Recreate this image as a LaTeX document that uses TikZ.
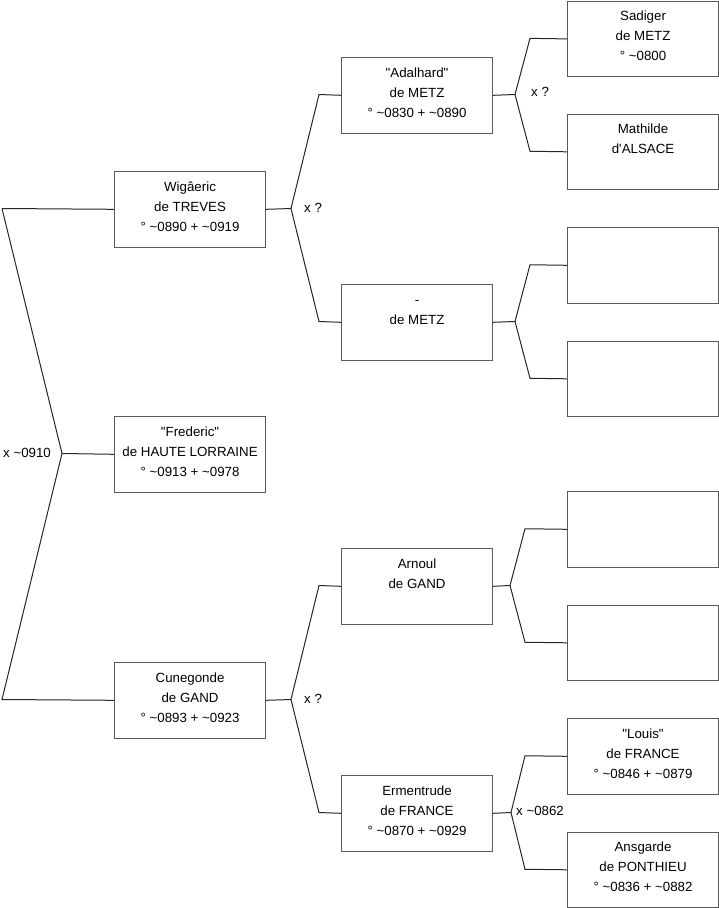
\documentclass[tikz,border=0pt]{standalone}
\usepackage{fontspec}
\setmainfont{Liberation Sans}
\begin{document}
\begin{tikzpicture}[x=1pt,y=-1pt,
  pbox/.style={draw=black!65, line width=1.1pt, minimum width=151pt, minimum height=75.5pt, inner sep=0pt, anchor=north west, fill=white},
  ptext/.style={anchor=north, inner sep=0pt, align=center, font=\fontsize{13.3}{20}\selectfont},
  lnk/.style={draw=black!85, line width=1pt},
  lbl/.style={anchor=west, inner sep=0pt, font=\fontsize{13.3}{16}\selectfont}]
\useasboundingbox (0,0) rectangle (719,908);
% generation 1
\node[pbox] (wig) at (114,171) {};
\node[pbox] (fre) at (114,416) {};
\node[pbox] (cun) at (114,662) {};
% generation 2
\node[pbox] (ada) at (341,57) {};
\node[pbox] (met) at (341,284) {};
\node[pbox] (arn) at (341,548) {};
\node[pbox] (erm) at (341,775) {};
% generation 3
\node[pbox] (sad) at (567,0.6) {};
\node[pbox] (mat) at (567,113.5) {};
\node[pbox] (e1) at (567,227) {};
\node[pbox] (e2) at (567,340.5) {};
\node[pbox] (e3) at (567,491) {};
\node[pbox] (e4) at (567,604.5) {};
\node[pbox] (lou) at (567,718) {};
\node[pbox] (ans) at (567,831.5) {};
% texts
\newcommand{\fs}{\rule{0pt}{20pt}}
\node[ptext] (twig) at (wig.north) {\fs Wigâeric\\de TREVES\\° \textasciitilde0890 + \textasciitilde0919};
\node[ptext] (tfre) at (fre.north) {\fs \textquotedbl Frederic\textquotedbl\\de HAUTE LORRAINE\\° \textasciitilde0913 + \textasciitilde0978};
\node[ptext] (tcun) at (cun.north) {\fs Cunegonde\\de GAND\\° \textasciitilde0893 + \textasciitilde0923};
\node[ptext] (tada) at (ada.north) {\fs \textquotedbl Adalhard\textquotedbl\\de METZ\\° \textasciitilde0830 + \textasciitilde0890};
\node[ptext] (tmet) at (met.north) {\fs -\\de METZ};
\node[ptext] (tarn) at (arn.north) {\fs Arnoul\\de GAND};
\node[ptext] (term) at (erm.north) {\fs Ermentrude\\de FRANCE\\° \textasciitilde0870 + \textasciitilde0929};
\node[ptext] (tsad) at (sad.north) {\fs Sadiger\\de METZ\\° \textasciitilde0800};
\node[ptext] (tmat) at (mat.north) {\fs Mathilde\\d\textquotesingle ALSACE};
\node[ptext] (tlou) at (lou.north) {\fs \textquotedbl Louis\textquotedbl\\de FRANCE\\° \textasciitilde0846 + \textasciitilde0879};
\node[ptext] (tans) at (ans.north) {\fs Ansgarde\\de PONTHIEU\\° \textasciitilde0836 + \textasciitilde0882};
% junction coordinates
\coordinate (r) at (62,453.5);
\coordinate (rt) at (2,208.5);
\coordinate (rb) at (2,699.5);
\coordinate (jw) at (291,208.5);
\coordinate (jc) at (291,699.5);
\coordinate (ja) at (515,94.5);
\coordinate (jm) at (515,321.5);
\coordinate (jn) at (510,585.5);
\coordinate (je) at (511,812.5);
% connectors root
\path[lnk] (rt) -- (wig.west);
\path[lnk] (rt) -- (r) -- (rb) -- (cun.west);
\path[lnk] (r) -- (fre.west);
% gen1 -> gen2
\path[lnk] (wig.east) -- (jw);
\path[lnk] (jw) -- (319,94.5) -- (ada.west);
\path[lnk] (jw) -- (319,321.5) -- (met.west);
\path[lnk] (cun.east) -- (jc);
\path[lnk] (jc) -- (319,585.5) -- (arn.west);
\path[lnk] (jc) -- (319,812.5) -- (erm.west);
% gen2 -> gen3
\path[lnk] (ada.east) -- (ja);
\path[lnk] (ja) -- (530,38.35) -- (sad.west);
\path[lnk] (ja) -- (530,151.25) -- (mat.west);
\path[lnk] (met.east) -- (jm);
\path[lnk] (jm) -- (530,264.75) -- (e1.west);
\path[lnk] (jm) -- (530,378.25) -- (e2.west);
\path[lnk] (arn.east) -- (jn);
\path[lnk] (jn) -- (525,528.75) -- (e3.west);
\path[lnk] (jn) -- (525,642.25) -- (e4.west);
\path[lnk] (erm.east) -- (je);
\path[lnk] (je) -- (525,755.75) -- (lou.west);
\path[lnk] (je) -- (525,869.25) -- (ans.west);
% labels
\node[lbl] (l0) at (3,453) {x \textasciitilde0910};
\node[lbl] (l1) at (304,208) {x ?};
\node[lbl] (l2) at (304,699) {x ?};
\node[lbl] (l3) at (531,92) {x ?};
\node[lbl] (l4) at (516,811) {x \textasciitilde0862};
\end{tikzpicture}
\end{document}
